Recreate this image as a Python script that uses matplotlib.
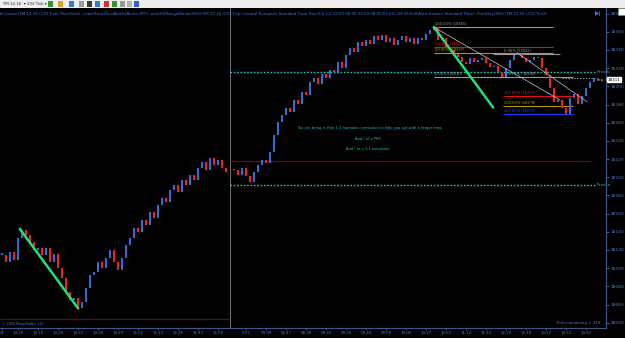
import numpy as np
import matplotlib.pyplot as plt
from matplotlib.patches import Rectangle

# closes of each tick bar, session before the divider and after it
s1_close = [18115, 18107, 18118, 18109, 18133, 18142, 18137, 18129, 18120, 18122,
            18115, 18122, 18107, 18116, 18100, 18089, 18074, 18065, 18067, 18056,
            18063, 18078, 18093, 18096, 18107, 18100, 18111, 18120, 18107, 18098,
            18111, 18126, 18133, 18144, 18140, 18153, 18148, 18162, 18155, 18170,
            18177, 18173, 18186, 18192, 18184, 18197, 18192, 18203, 18197, 18210,
            18217, 18208, 18221, 18214, 18219, 18210, 18206]
s2_close = [18208, 18203, 18210, 18201, 18195, 18206, 18214, 18219, 18216, 18228,
            18247, 18261, 18269, 18276, 18272, 18285, 18281, 18294, 18291, 18305,
            18309, 18303, 18314, 18309, 18318, 18316, 18327, 18320, 18335, 18342,
            18338, 18349, 18344, 18351, 18347, 18355, 18351, 18357, 18349, 18353,
            18346, 18351, 18355, 18349, 18353, 18347, 18353, 18351, 18358, 18362,
            18365, 18351, 18353, 18343, 18340, 18336, 18332, 18327, 18325, 18331,
            18327, 18329, 18331, 18326, 18321, 18322, 18316, 18310, 18320, 18329,
            18335, 18336, 18331, 18327, 18329, 18332, 18331, 18320, 18313, 18298,
            18283, 18285, 18276, 18270, 18287, 18292, 18281, 18289, 18298, 18305,
            18309]

time_ticks = [0, 4, 9, 14, 19, 24, 29, 34, 39, 44, 49, 54,
              61, 66, 71, 76, 81, 86, 91, 96, 101, 106, 111, 116, 121, 126, 131, 136, 141, 146]
time_labels = ["06", "14:10", "14:16", "14:24", "14:32", "14:40", "14:49", "15:02", "15:13",
               "15:26", "15:43", "15:58", "9:22", "04:09", "06:47", "08:38", "09:30", "09:34",
               "09:48", "09:58", "10:06", "10:27", "10:50", "11:14", "11:44", "12:24", "13:18",
               "14:12", "14:32", "14:42"]
price_ticks = list(range(18040, 18381, 20))

prev_hi = 18316
prev_lo = 18192
prior_red_left = 18044
prior_red_right = 18218
last_price = 18309

# fib retracement (swing high -> low) and extension set
fib_a = [("100.00% (18365)", 18365, "#9a9a9a"),
         ("61.80% (18343)", 18343, "#e01010"),
         ("50.00% (18337)", 18337, "#b89a00"),
         ("0.00% (18310)", 18310, "#9a9a9a")]
fib_b = [("0.00% (18331)", 18336, "#9a9a9a"),
         ("161.80% (18289)", 18289, "#e01010"),
         ("200.00% (18278)", 18278, "#b89a00"),
         ("261.80% (18270)", 18270, "#2040ff")]

BLUE = "#2a6fe0"
RED = "#ff1a22"
CYAN = "#19c4c4"
AXC = "#4f7fc0"

fig = plt.figure(figsize=(6.25, 3.38), dpi=100)
fig.patch.set_facecolor("black")
ax = fig.add_axes([0, 10 / 338, 606 / 625, 320 / 338])
ax.set_facecolor("black")


def draw_session(x0, closes):
    c = np.array(closes, float)
    o = np.r_[c[0], c[:-1]]
    h = c - o
    h[np.abs(h) < 1] = 1.2
    x = x0 + np.arange(len(c))
    cols = np.where(c >= o, BLUE, RED)
    ax.bar(x, h, bottom=o, width=0.7, color=cols, linewidth=0, zorder=3)


draw_session(0, s1_close)
draw_session(58, s2_close)

# session divider
ax.axvline(57, color="#6a6a6a", lw=0.8, zorder=1)

# prior day lines
ax.hlines(prior_red_left, -0.5, 57, color="#5c1016", lw=0.9)
ax.hlines(prior_red_right, 57, 147, color="#5c1016", lw=0.9)
ax.hlines([prev_hi, prev_lo], 57, 148.25, color=CYAN, lw=1.0, linestyles=(0, (1.2, 1.2)), zorder=2)
ax.hlines(last_price, 140, 148.25, color="#9a9a9a", lw=0.7, linestyles=(0, (1.5, 1.5)))
ax.text(148.6, prev_hi, "PrevHi", color=CYAN, fontsize=2.8, va="center", ha="left", family="DejaVu Sans Mono")
ax.text(148.6, last_price - 1.5, "Reg.O", color="#c0c0c0", fontsize=2.8, va="center", ha="left", family="DejaVu Sans Mono")
ax.text(148.6, prev_lo, "PrevLo", color=CYAN, fontsize=2.8, va="center", ha="left", family="DejaVu Sans Mono")
ax.text(1.003, last_price - 1.5, str(last_price + 2), transform=ax.get_yaxis_transform(),
        color="black", fontsize=3.0, va="center", ha="left",
        bbox=dict(boxstyle="square,pad=0.15", fc="white", ec="white"), clip_on=False, zorder=6)

# fibonacci lines
for i, (lab, val, col) in enumerate(fib_a):
    x1 = 142.75 if i == len(fib_a) - 1 else 137.75
    ax.hlines(val, 108, x1, color=col, lw=0.8, zorder=2)
    ax.text(108.3, val + 1.2, lab, color=col, fontsize=2.6, va="bottom", ha="left", zorder=5)
for i, (lab, val, col) in enumerate(fib_b):
    x0, x1 = (122.75, 139.5) if i == 0 else (125.25, 142.75)
    ax.hlines(val, x0, x1, color=col, lw=0.8, zorder=2)
    ax.text(125.5, val + 1.2, lab, color=col, fontsize=2.6, va="bottom", ha="left", zorder=5)
ax.text(125.5, 18311.2, "100.00% (18308)", color="#9a9a9a", fontsize=2.6, va="bottom", ha="left", zorder=5)

# trend lines
ax.plot([4.5, 19], [18143, 18056], color="#1ee07a", lw=1.8, zorder=4)
ax.plot([108, 122.75], [18365, 18277], color="#1ee07a", lw=1.8, zorder=4)
ax.plot([108, 139.5], [18365, 18285], color="#c8c8c8", lw=0.5, zorder=4)
ax.plot([128.75, 146.25], [18337, 18283], color="#c8c8c8", lw=0.5, zorder=4)

# annotation text
ax.text(92, 18254, "You can bring in that 1:1 harmonic correction to help you out with a target area.",
        color=CYAN, fontsize=2.6, ha="center", va="center")
ax.text(91.5, 18242, "And / or a PRZ", color=CYAN, fontsize=2.6, ha="center", va="center")
ax.text(91.5, 18231, "And / or a 1:1 extension", color=CYAN, fontsize=2.6, ha="center", va="center")

ax.set_xlim(-0.5, 151)
ax.set_ylim(18034.2, 18386.2)

for s in ["left", "top"]:
    ax.spines[s].set_visible(False)
for s in ["right", "bottom"]:
    ax.spines[s].set_color("#34598a")
    ax.spines[s].set_linewidth(0.8)
ax.yaxis.tick_right()
ax.set_yticks(price_ticks)
ax.set_yticklabels([str(p) for p in price_ticks])
ax.set_xticks(time_ticks)
ax.set_xticklabels(time_labels)
ax.tick_params(axis="y", colors=AXC, labelsize=3.2, length=2, width=0.5, pad=1)
ax.tick_params(axis="x", colors=AXC, labelsize=2.8, length=1.5, width=0.5, pad=1)

# header line with indicator names
hdr = ("kCounter(YM 12-16 (233 Tick),True,False), LabelHorizLinesAlerts(Alerts OFF), "
       "anaOHLRangeBandsOHV2(YM 12-16 (233 Tick),Central European Standard Time,True,0.5,1,2,"
       "15:00,08:00,23:00,08:00,01:00,- 06:45,Full,Auto,Eastern Standard Time), "
       "PriorDayOHLC(YM 12-16 (233 Tick))")
fig.text(0.0, 1 - 13.5 / 338, hdr, color="#3f78d8", fontsize=2.75, ha="left", va="center")
fig.text(2 / 625, 1 - 324 / 338, "\u00a9 2016 NinjaTrader, LLC", color=AXC, fontsize=2.4, ha="left", va="center")
fig.text(600 / 625, 1 - 323 / 338, "Ticks remaining = 339", color=AXC, fontsize=2.8, ha="right", va="center")
fig.text(598 / 625, 1 - 14 / 338, "\u25b6|", color="#3f78d8", fontsize=4, ha="center", va="center", weight="bold")

# toolbar strip
fig.patches.append(Rectangle((0, 1 - 8 / 338), 1, 8 / 338, transform=fig.transFigure,
                             fc="#ededed", ec="none", zorder=0))
fig.text(3 / 625, 1 - 4 / 338, "YM 12-16  \u25be", fontsize=2.8, color="#222222", va="center")
fig.text(27 / 625, 1 - 4 / 338, "233 Tick \u25be", fontsize=2.8, color="#222222", va="center")
icon_cols = ["#2f9a2f", "#d9a21c", "#2f7fd0", "#9a9a9a", "#3a3a3a", "#2f7fd0", "#d03030", "#2f9a2f", "#9a9a9a", "#b0b0b0", "#3060c0"]
icon_x = [48, 58, 69, 79, 87, 95, 104, 112, 120, 127, 134]
for xi, ci in zip(icon_x, icon_cols):
    fig.patches.append(Rectangle((xi / 625, 1 - 7 / 338), 5 / 625, 6 / 338, transform=fig.transFigure,
                                 fc=ci, ec="none", zorder=1))
fig.patches.append(Rectangle((618 / 625, 1 - 15 / 338), 7 / 625, 7 / 338, transform=fig.transFigure,
                             fc="white", ec="#888888", lw=0.4, zorder=1))

fig.savefig("out.png", dpi=100, facecolor="black")
